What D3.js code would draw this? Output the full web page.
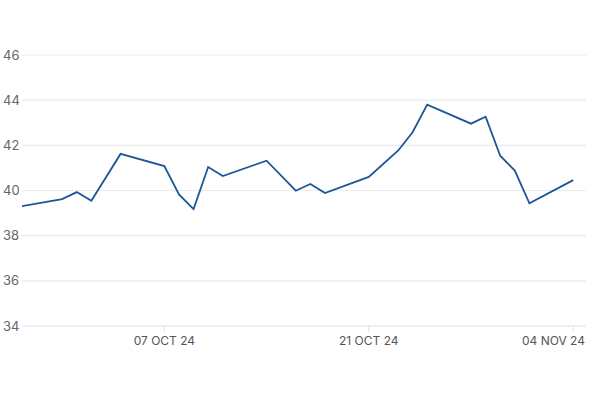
<!DOCTYPE html>
<html>
<head>
<meta charset="utf-8">
<script src="https://cdn.jsdelivr.net/npm/d3@7"></script>
<style>
  html, body { margin: 0; padding: 0; background: #fff; }
  svg { display: block; font-family: "Inter", "Liberation Sans", sans-serif; }
</style>
</head>
<body>
<svg id="chart" width="600" height="400"></svg>
<script>
const dates = ["2024-09-27","2024-09-30","2024-10-01","2024-10-02","2024-10-04","2024-10-07","2024-10-08","2024-10-09","2024-10-10","2024-10-11","2024-10-14","2024-10-16","2024-10-17","2024-10-18","2024-10-21","2024-10-23","2024-10-24","2024-10-25","2024-10-28","2024-10-29","2024-10-30","2024-10-31","2024-11-01","2024-11-04"];
const values = [39.28,39.62,39.93,39.55,41.62,41.08,39.83,39.18,41.04,40.64,41.32,39.99,40.29,39.89,40.60,41.76,42.58,43.80,42.96,43.27,41.54,40.88,39.43,40.46];
const yTicks = [34,36,38,40,42,44,46];
const xTickDates = ["2024-10-07","2024-10-21","2024-11-04"];
const xTickLabels = ["07 OCT 24","21 OCT 24","04 NOV 24"];

const parse = d3.utcParse("%Y-%m-%d");
const data = dates.map((d, i) => ({ date: parse(d), value: values[i] }));

const svg = d3.select("#chart");
const mLeft = 22, mRight = 586, mTop = 55, mBottom = 326;

const x = d3.scaleUtc()
  .domain([new Date(Date.UTC(2024, 8, 27, 6)), new Date(Date.UTC(2024, 10, 4, 21))])
  .range([mLeft, mRight]);
const y = d3.scaleLinear().domain([34, 46]).range([mBottom, mTop]);

svg.append("defs").append("clipPath").attr("id", "clip")
  .append("rect").attr("x", mLeft).attr("y", 0).attr("width", mRight - mLeft).attr("height", 400);

// gridlines
svg.append("g").selectAll("line").data(yTicks).join("line")
  .attr("x1", mLeft).attr("x2", mRight)
  .attr("y1", d => y(d)).attr("y2", d => y(d))
  .attr("stroke", d => d === 34 ? "#dde1e8" : "#ebebeb")
  .attr("stroke-width", 1.2);

// y labels
svg.append("g").selectAll("text").data(yTicks).join("text")
  .attr("x", 3).attr("y", d => y(d))
  .attr("dy", "0.35em")
  .attr("font-size", 13)
  .attr("fill", "#666")
  .text(d => d);

// x axis ticks
const xt = xTickDates.map(parse);
svg.append("g").selectAll("line").data(xt).join("line")
  .attr("x1", d => x(d)).attr("x2", d => x(d))
  .attr("y1", mBottom).attr("y2", mBottom + 6)
  .attr("stroke", "#dde1e8").attr("stroke-width", 1);

svg.append("g").selectAll("text").data(xt).join("text")
  .attr("x", (d, i) => i === xt.length - 1 ? mRight - 1 : x(d)).attr("y", 345)
  .attr("text-anchor", (d, i) => i === xt.length - 1 ? "end" : "middle")
  .attr("font-size", 12)
  .attr("fill", "#555")
  .text((d, i) => xTickLabels[i]);

// line
const line = d3.line().x(d => x(d.date)).y(d => y(d.value));
svg.append("path").datum(data)
  .attr("clip-path", "url(#clip)")
  .attr("d", line)
  .attr("fill", "none")
  .attr("stroke", "#1b5796")
  .attr("stroke-width", 1.8)
  .attr("stroke-linejoin", "miter");
</script>
</body>
</html>
